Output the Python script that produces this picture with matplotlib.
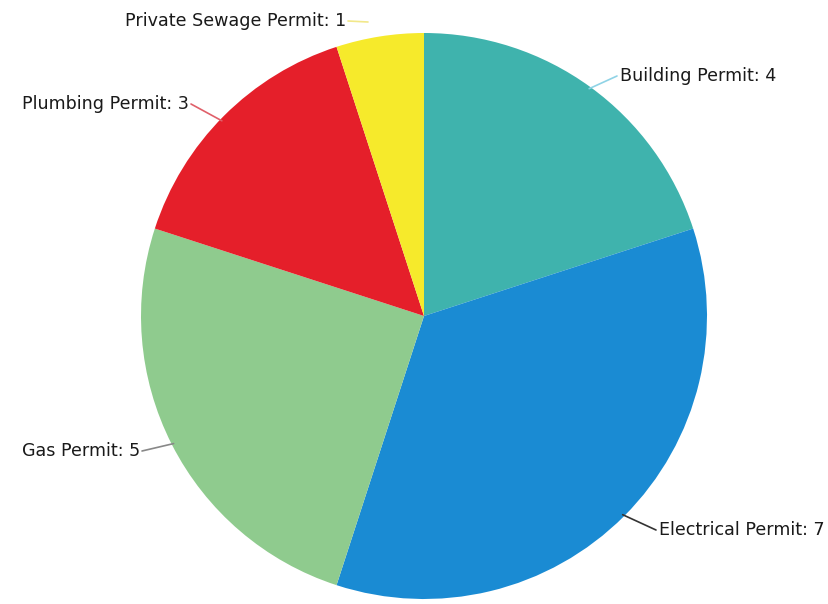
import numpy as np
import matplotlib
matplotlib.use("Agg")
import matplotlib.pyplot as plt

categories = ["Building Permit", "Electrical Permit", "Gas Permit", "Plumbing Permit", "Private Sewage Permit"]
values = [4, 7, 5, 3, 1]
colors = ["#3fb3ad", "#1a8bd3", "#8fcb8e", "#e51f2a", "#f6ea2b"]
line_colors = ["#8fd3e6", "#333333", "#888888", "#e0606a", "#f2e88a"]

W, H = 829, 604
fig = plt.figure(figsize=(W / 100, H / 100), dpi=100)
ax = fig.add_axes([0, 0, 1, 1])

cx, cy, r = 424, H - 316, 283
wedges, _ = ax.pie(values, colors=colors, startangle=90, counterclock=False,
                   center=(cx, cy), radius=r, frame=True,
                   wedgeprops=dict(linewidth=0))
ax.set_xlim(0, W)
ax.set_ylim(0, H)
ax.set_aspect("equal")
ax.axis("off")

# label placement: (edge angle deg, text x, text y, ha)
label_pos = {
    "Building Permit": (54, 620, H - 76, "left"),
    "Electrical Permit": (-45, 659, H - 530, "left"),
    "Gas Permit": (-153, 140, H - 451, "right"),
    "Plumbing Permit": (136, 189, H - 104, "right"),
    "Private Sewage Permit": (100, 346, H - 21, "right"),
}

for cat, val, lc in zip(categories, values, line_colors):
    ang, tx, ty, ha = label_pos[cat]
    a = np.deg2rad(ang)
    ex, ey = cx + (r - 2) * np.cos(a), cy + (r - 2) * np.sin(a)
    if cat == "Private Sewage Permit":
        ex, ey = tx + 22, ty - 1
    lx = tx - 3 if ha == "left" else tx + 2
    ax.plot([lx, ex], [ty, ey], color=lc, lw=1.2, solid_capstyle="round")
    ax.text(tx, ty, f"{cat}: {val}", ha=ha, va="center", fontsize=12.6,
            family="DejaVu Sans", color="#1a1a1a")

fig.savefig("out.png", dpi=100)
